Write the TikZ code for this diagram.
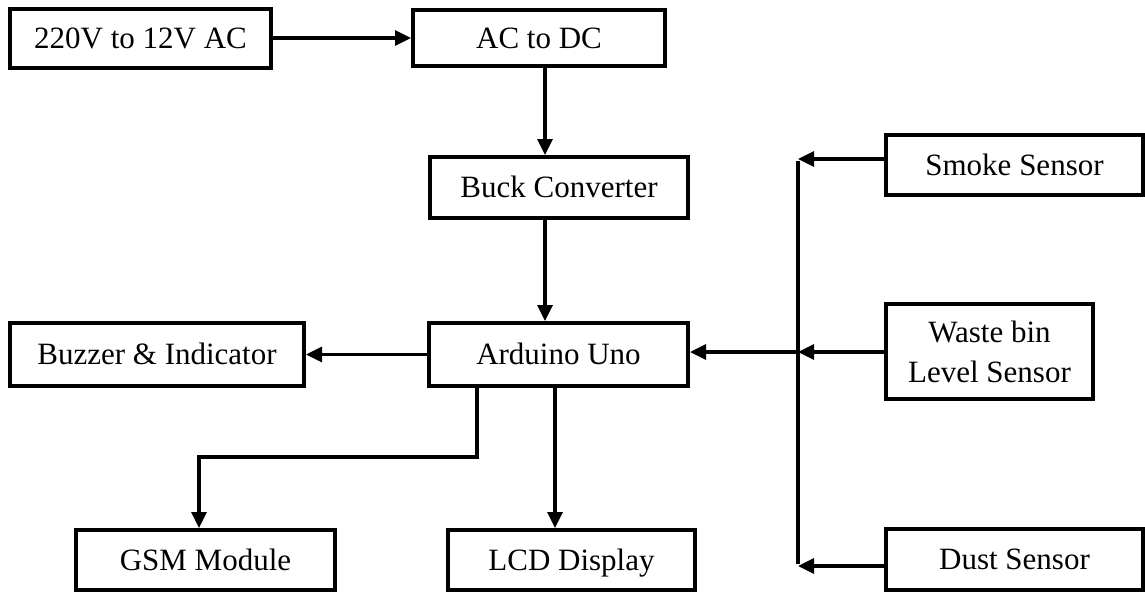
\documentclass[tikz,border=0pt]{standalone}
\usepackage{fontspec}
\setmainfont{Liberation Serif}
\usetikzlibrary{arrows.meta}
\begin{document}
\begin{tikzpicture}[x=1pt,y=-1pt,
  blk/.style={draw, line width=4pt, rectangle, inner sep=0pt, align=center,
    font=\fontsize{31}{40}\selectfont},
  one/.style={blk, text height=20.5pt, text depth=0pt},
  conn/.style={line width=3.3pt, -{Triangle[length=16pt,width=15pt]}},
  wire/.style={line width=3.3pt}]
\useasboundingbox (0,0) rectangle (1145,592);
% boxes
\node[one, minimum width=261pt, minimum height=59pt] (p220) at (140.5,38) {220V to 12V AC};
\node[one, minimum width=252pt, minimum height=56pt] (acdc) at (539,38) {AC to DC};
\node[one, minimum width=258pt, minimum height=61pt] (buck) at (559,187.5) {Buck Converter};
\node[one, minimum width=259pt, minimum height=63pt] (ard) at (558.5,354.5) {Arduino Uno};
\node[one, minimum width=294pt, minimum height=63pt] (buzz) at (157,354.5) {Buzzer \& Indicator};
\node[one, minimum width=259pt, minimum height=60pt] (gsm) at (205.5,560) {GSM Module};
\node[one, minimum width=247pt, minimum height=60pt] (lcd) at (571.5,560) {LCD Display};
\node[one, minimum width=257pt, minimum height=60pt] (smoke) at (1014.5,165) {Smoke Sensor};
\node[blk, minimum width=207pt, minimum height=95pt] (waste) at (989.5,351.5) {Waste bin\\Level Sensor};
\node[one, minimum width=257pt, minimum height=61pt] (dust) at (1014.5,559.5) {Dust Sensor};
% helper coordinates
\coordinate (xa) at (545,0);
\coordinate (xl) at (555,0);
\coordinate (g1) at (477,457);
\coordinate (g2) at (199,457);
\coordinate (btop) at (798,159);
\coordinate (bmid) at (798,352);
\coordinate (bbot) at (798,566);
% connectors
\draw[conn] (p220) -- (acdc);
\draw[conn] (acdc.south -| xa) -- (buck.north -| xa);
\draw[conn] (buck.south -| xa) -- (ard.north -| xa);
\draw[conn] (ard) -- (buzz);
\draw[conn] (ard.south -| g1) -- (g1) -- (g2) -- (gsm.north -| g2);
\draw[conn] (ard.south -| xl) -- (lcd.north -| xl);
\draw[wire] ([yshift=-1.6pt]btop) -- ([yshift=1.6pt]bbot);
\draw[conn] (smoke.west |- btop) -- (btop);
\draw[conn] (waste.west |- bmid) -- (bmid);
\draw[conn] (dust.west |- bbot) -- (bbot);
\draw[conn] (bmid) -- (ard.east |- bmid);
\end{tikzpicture}
\end{document}
